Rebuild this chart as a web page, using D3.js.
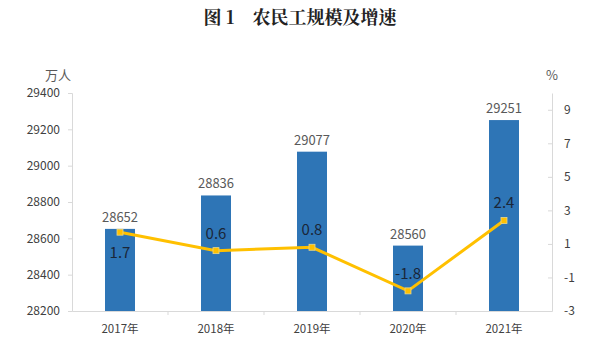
<!DOCTYPE html>
<html><head><meta charset="utf-8">
<script src="https://cdn.jsdelivr.net/npm/d3@7"></script>
<style>body{margin:0;background:#fff;}svg{display:block;}</style>
</head><body>
<svg id="c" width="600" height="351"></svg>
<script>
const categories = ["2017年","2018年","2019年","2020年","2021年"];
const workers = [28652, 28836, 29077, 28560, 29251];
const growth = [1.7, 0.6, 0.8, -1.8, 2.4];
const leftTicks = [28200, 28400, 28600, 28800, 29000, 29200, 29400];
const rightTicks = [-3, -1, 1, 3, 5, 7, 9];
const growthLabelPos = ["below","above","above","above","above"];

const loc = d3.formatLocale({decimal: ".", thousands: ",", grouping: [3], currency: ["", ""], minus: "-"});
const svg = d3.select("#c");
const L = 72, R = 552, T = 93, B = 311;
const x = d3.scaleBand().domain(categories).range([L, R]);
const yL = d3.scaleLinear().domain([28200, 29400]).range([B, T]);
const yR = d3.scaleLinear().domain([-3, 10]).range([B, T]);
const font = "'Noto Sans CJK SC','Noto Sans',sans-serif";
const axisColor = "#d9d9d9";

svg.append("text").attr("x", 300).attr("y", 24).attr("text-anchor", "middle")
  .attr("font-family", "'Noto Serif CJK SC','Noto Sans CJK SC',serif").attr("font-weight", "bold")
  .attr("font-size", 18).attr("fill", "#222").text("图 1　农民工规模及增速");

// axes
const gl = svg.append("g").attr("transform", `translate(${L},0)`)
  .call(d3.axisLeft(yL).tickValues(leftTicks).tickSize(4).tickPadding(8).tickFormat(loc.format("d")));
const gr = svg.append("g").attr("transform", `translate(${R},0)`)
  .call(d3.axisRight(yR).tickValues(rightTicks).tickSize(0).tickPadding(12).tickFormat(loc.format("d")));
gr.selectAll(".tick").append("line").attr("x1", -4).attr("x2", 0).attr("stroke", axisColor);
const gx = svg.append("g").attr("transform", `translate(0,${B})`)
  .call(d3.axisBottom(x).tickSize(0).tickPadding(14));
[gl, gr, gx].forEach(g => {
  g.select(".domain").attr("stroke", axisColor);
  g.selectAll(".tick line").attr("stroke", axisColor);
  g.selectAll("text").attr("font-family", font).attr("font-size", 12).attr("fill", "#404040");
});
gx.selectAll(".tick text").attr("font-size", 11.5);
// category boundary ticks
svg.append("g").selectAll("line").data(categories.slice(1)).join("line")
  .attr("x1", d => x(d)).attr("x2", d => x(d)).attr("y1", B).attr("y2", B + 4).attr("stroke", axisColor);

svg.append("text").attr("x", 58).attr("y", 80).attr("text-anchor", "middle").attr("font-family", font)
  .attr("font-size", 13).attr("fill", "#595959").text("万人");
svg.append("text").attr("x", 552).attr("y", 80).attr("text-anchor", "middle").attr("font-family", font)
  .attr("font-size", 13).attr("fill", "#595959").text("%");

// bars
const bw = 30;
svg.append("g").selectAll("rect").data(workers).join("rect")
  .attr("x", (d, i) => x(categories[i]) + x.bandwidth() / 2 - bw / 2)
  .attr("width", bw).attr("y", d => yL(d)).attr("height", d => B - yL(d)).attr("fill", "#2E75B6");
svg.append("g").selectAll("text").data(workers).join("text")
  .attr("x", (d, i) => x(categories[i]) + x.bandwidth() / 2).attr("y", d => yL(d) - 7)
  .attr("text-anchor", "middle").attr("font-family", font).attr("font-size", 13).attr("fill", "#595959")
  .text(d => d);

// line
const cx = (d, i) => x(categories[i]) + x.bandwidth() / 2;
svg.append("path").datum(growth)
  .attr("d", d3.line().x(cx).y(d => yR(d)))
  .attr("fill", "none").attr("stroke", "#FFC000").attr("stroke-width", 3);
svg.append("g").selectAll("rect").data(growth).join("rect")
  .attr("x", (d, i) => cx(d, i) - 3).attr("y", d => yR(d) - 3).attr("width", 6).attr("height", 6)
  .attr("fill", "#FFC000").attr("stroke", "#E8D88C").attr("stroke-width", 0.8);
svg.append("g").selectAll("text").data(growth).join("text")
  .attr("x", cx).attr("y", (d, i) => growthLabelPos[i] === "below" ? yR(d) + 26 : yR(d) - 12)
  .attr("text-anchor", "middle").attr("font-family", font).attr("font-size", 15).attr("fill", "#1a2638")
  .text(d => loc.format(".1f")(d));
</script>
</body></html>
